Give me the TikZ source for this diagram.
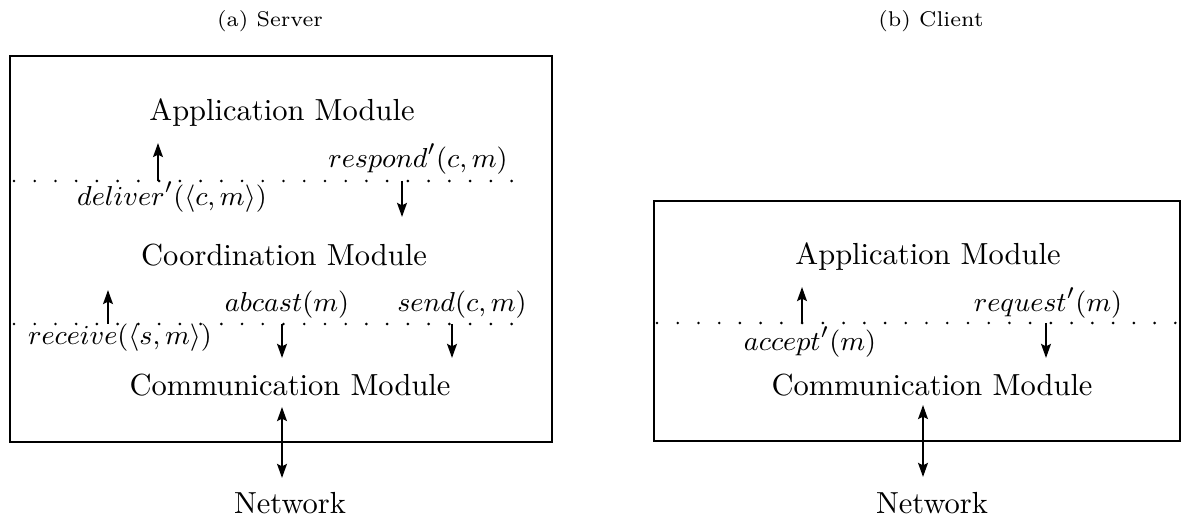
\documentclass[tikz,border=0pt]{standalone}
\usetikzlibrary{arrows.meta}
\begin{document}
\begin{tikzpicture}[x=0.328pt,y=-0.328pt,
  boxframe/.style={draw, line width=0.85pt},
  modlabel/.style={inner sep=0pt, font=\normalsize},
  msglabel/.style={inner sep=0pt, font=\fontsize{9.5}{11}\selectfont},
  titlelabel/.style={inner sep=0pt, font=\fontsize{7}{9}\selectfont},
  sepline/.style={line width=0.95pt, dash pattern=on 0pt off 6.8pt, line cap=round},
  flow/.style={line width=0.75pt, -{Stealth[length=4.6pt,width=3.2pt,inset=0.8pt]}},
  biflow/.style={line width=0.75pt, {Stealth[length=4.6pt,width=3.2pt,inset=0.8pt]}-{Stealth[length=4.6pt,width=3.2pt,inset=0.8pt]}}]
\useasboundingbox (0,0) rectangle (1182,517);

% titles
\node[titlelabel] (tA) at (270,21) {(a) Server};
\node[titlelabel] (tB) at (931,21) {(b) Client};

% ---------------- Server ----------------
\draw[boxframe] (10,56) rectangle (552,442);
\node[modlabel] (sApp) at (282,113) {Application Module};
\node[msglabel] (sDel) at (172,197) {$deliver'(\langle c,m\rangle)$};
\node[msglabel] (sResp) at (418,159) {$respond'(c,m)$};
\node[modlabel] (sCoord) at (284,255) {Coordination Module};
\node[msglabel] (sRecv) at (120,338) {$receive(\langle s,m\rangle)$};
\node[msglabel] (sAb) at (287,305) {$abcast(m)$};
\node[msglabel] (sSend) at (462,305) {$send(c,m)$};
\node[modlabel] (sComm) at (290,385) {Communication Module};
\node[modlabel] (sNet) at (290,503) {Network};

\coordinate (sL1a) at (14,181);
\coordinate (sL1b) at (530,181);
\coordinate (sL2a) at (14,324);
\coordinate (sL2b) at (530,324);
\draw[sepline] (sL1a) -- (sL1b);
\draw[sepline] (sL2a) -- (sL2b);

\coordinate (sDelA) at (158,181);
\coordinate (sDelB) at (158,143);
\coordinate (sRespA) at (402,181);
\coordinate (sRespB) at (402,217);
\coordinate (sRecvA) at (108,324);
\coordinate (sRecvB) at (108,290);
\coordinate (sAbA) at (282,324);
\coordinate (sAbB) at (282,358);
\coordinate (sSendA) at (452,324);
\coordinate (sSendB) at (452,358);
\coordinate (sNetA) at (282,407);
\coordinate (sNetB) at (282,478);
\draw[flow] (sDelA) -- (sDelB);
\draw[flow] (sRespA) -- (sRespB);
\draw[flow] (sRecvA) -- (sRecvB);
\draw[flow] (sAbA) -- (sAbB);
\draw[flow] (sSendA) -- (sSendB);
\draw[biflow] (sNetA) -- (sNetB);

% ---------------- Client ----------------
\draw[boxframe] (654,201) rectangle (1180,441);
\node[modlabel] (cApp) at (928,257) {Application Module};
\node[msglabel] (cAcc) at (810,342) {$accept'(m)$};
\node[msglabel] (cReq) at (1048,303) {$request'(m)$};
\node[modlabel] (cComm) at (932,385) {Communication Module};
\node[modlabel] (cNet) at (932,503) {Network};

\coordinate (cLa) at (657,323);
\coordinate (cLb) at (1182,323);
\draw[sepline] (cLa) -- (cLb);

\coordinate (cAccA) at (802,323);
\coordinate (cAccB) at (802,287);
\coordinate (cReqA) at (1046,323);
\coordinate (cReqB) at (1046,358);
\coordinate (cNetA) at (923,405);
\coordinate (cNetB) at (923,477);
\draw[flow] (cAccA) -- (cAccB);
\draw[flow] (cReqA) -- (cReqB);
\draw[biflow] (cNetA) -- (cNetB);
\end{tikzpicture}
\end{document}
